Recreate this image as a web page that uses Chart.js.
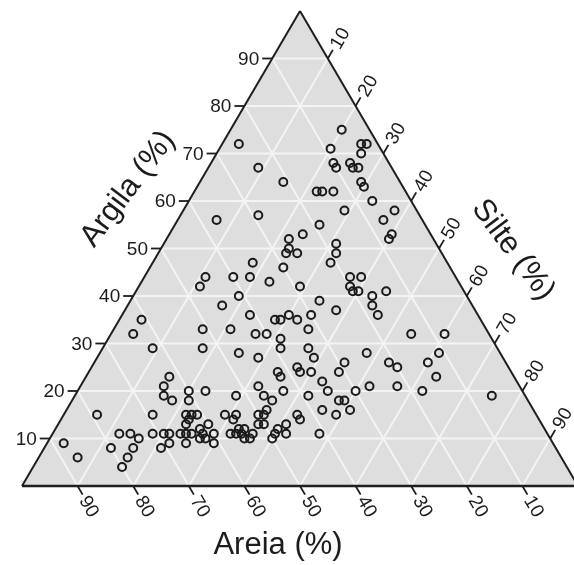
<!DOCTYPE html>
<html>
<head>
<meta charset="utf-8">
<script src="https://cdn.jsdelivr.net/npm/chart.js@4"></script>
<style>
  html, body { margin: 0; padding: 0; background: #fff; overflow: hidden; }
  #wrap { position: relative; width: 584px; height: 565px; }
</style>
</head>
<body>
<div id="wrap"><canvas id="ternary"></canvas></div>
<script>
// Soil samples: Areia (sand), Silte (silt), Argila (clay), in %
const areia = [
  25,24,21,5,9,3,2,4,10,10, 7,7,6,7,7,16,15,13,7,13,
  4,37,29,19,7,7,8,23,26,27, 28,26,18,19,21,35,30,45,47,40,
  37,34,29,41,45,19,17,20,20,19, 17,18,18,14,27,25,30,33,34,36,
  37,32,14,8,34,34,38,39,24,29, 31,21,20,11,14,14,38,38,36,35,
  35,39,42,42,43,30,27,22,18,34, 33,33,38,36,43,43,46,47,41,6,
  41,51,46,53,47,44,42,40,61,64, 62,62,64,65,64,79,69,60,61,57,
  52,47,47,46,48,88,87,80,76,78, 80,71,69,77,75,74,71,69,68,66,
  65,63,62,61,64,62,64,62,60,60, 61,66,63,62,63,56,54,55,55,54,
  56,57,55,54,53,51,50,49,50,48, 49,50,55
];
const silte = [
  3,9,15,20,20,25,26,26,22,23, 25,26,27,29,30,22,23,25,33,29,
  38,7,14,26,37,40,40,24,22,23, 23,25,31,32,32,18,24,11,11,16,
  19,23,29,19,17,37,39,38,39,40, 43,44,46,45,34,38,34,32,30,29,
  28,35,54,60,37,39,31,32,48,45, 45,53,55,61,60,63,37,38,40,43,
  45,42,34,35,37,50,52,57,62,48, 49,51,46,49,42,43,41,42,48,75,
  23,16,21,18,25,29,26,28,4,4, 9,15,15,16,18,6,16,20,21,23,
  29,32,34,36,36,3,7,12,16,16, 16,21,22,12,14,16,18,20,21,23,
  24,22,23,24,23,26,25,27,27,29, 30,25,27,28,23,29,31,31,33,34,
  33,32,35,36,36,36,35,36,37,40, 40,40,34
];
const argila = [
  72,67,64,75,71,72,72,70,68,67, 68,67,67,64,63,62,62,62,60,58,
  58,56,57,55,56,53,52,53,52,50, 49,49,51,49,47,47,46,44,42,44,
  44,43,42,40,38,44,44,42,41,41, 40,38,36,41,39,37,36,35,36,35,
  35,33,32,32,29,27,31,29,28,26, 24,26,25,28,26,23,25,24,24,22,
  20,19,24,23,20,20,21,21,20,18, 18,16,16,15,15,14,13,11,11,19,
  36,33,33,29,28,27,32,32,35,32, 29,23,21,19,18,15,15,20,18,20,
  19,21,19,18,16,9,6,8,8,6, 4,8,9,11,11,10,11,11,11,11,
  11,15,15,15,13,12,11,11,13,11, 9,9,10,10,14,15,15,14,12,12,
  11,11,10,10,11,13,15,15,13,12, 11,10,11
];
const tickVals = [10, 20, 30, 40, 50, 60, 70, 80, 90];

// ternary -> cartesian (x: silt + clay/2, y: clay), normalised to 100
const points = areia.map((a, i) => {
  const tot = a + silte[i] + argila[i];
  return { x: (silte[i] + argila[i] / 2) * 100 / tot, y: argila[i] * 100 / tot };
});

const txt = '#1c1c1c';
const tickFont = '19px "Liberation Sans", Arial, sans-serif';
const titleFont = '31px "Liberation Sans", Arial, sans-serif';

const ternaryPlugin = {
  id: 'ternary',
  beforeDatasetsDraw(chart) {
    const { ctx } = chart;
    const xs = chart.scales.x, ys = chart.scales.y;
    const P = (a, s, c) => ({ x: xs.getPixelForValue(s + c / 2), y: ys.getPixelForValue(c) });
    const line = (p, q) => { ctx.beginPath(); ctx.moveTo(p.x, p.y); ctx.lineTo(q.x, q.y); ctx.stroke(); };
    const A = P(100, 0, 0), B = P(0, 100, 0), C = P(0, 0, 100);

    ctx.save();
    // background triangle
    ctx.fillStyle = '#dedede';
    ctx.beginPath();
    ctx.moveTo(A.x, A.y); ctx.lineTo(B.x, B.y); ctx.lineTo(C.x, C.y);
    ctx.closePath();
    ctx.fill();

    // white grid
    ctx.strokeStyle = '#f4f4f4';
    ctx.lineWidth = 2;
    tickVals.forEach(v => {
      line(P(100 - v, 0, v), P(0, 100 - v, v));
      line(P(100 - v, v, 0), P(0, v, 100 - v));
      line(P(v, 100 - v, 0), P(v, 0, 100 - v));
    });

    // edges
    ctx.strokeStyle = '#1e1e1e';
    ctx.lineWidth = 2;
    line(A, C); line(C, B);
    ctx.lineWidth = 2.5;
    line(A, B);

    // ticks + labels
    const tl = 10;
    ctx.lineWidth = 1.8;
    ctx.fillStyle = txt;
    ctx.font = tickFont;
    tickVals.forEach(v => {
      // Argila, left edge
      let p = P(100 - v, 0, v);
      line(p, { x: p.x - tl, y: p.y });
      ctx.textAlign = 'right'; ctx.textBaseline = 'middle';
      ctx.fillText(String(v), p.x - tl - 3, p.y + 1);

      // Silte, right edge (along constant-silt line, outward)
      p = P(0, v, 100 - v);
      let q = P(100 - v, v, 0);
      let dx = p.x - q.x, dy = p.y - q.y, d = Math.hypot(dx, dy);
      dx /= d; dy /= d;
      line(p, { x: p.x + dx * tl, y: p.y + dy * tl });
      ctx.save();
      ctx.translate(p.x + dx * (tl + 3), p.y + dy * (tl + 3));
      ctx.rotate(Math.atan2(dy, dx));
      ctx.textAlign = 'left'; ctx.textBaseline = 'middle';
      ctx.fillText(String(v), 0, 1);
      ctx.restore();

      // Areia, base (along constant-sand line, outward)
      p = P(v, 100 - v, 0);
      q = P(v, 0, 100 - v);
      dx = p.x - q.x; dy = p.y - q.y; d = Math.hypot(dx, dy);
      dx /= d; dy /= d;
      line(p, { x: p.x + dx * tl, y: p.y + dy * tl });
      ctx.save();
      ctx.translate(p.x + dx * (tl + 3), p.y + dy * (tl + 3));
      ctx.rotate(Math.atan2(dy, dx));
      ctx.textAlign = 'left'; ctx.textBaseline = 'middle';
      ctx.fillText(String(v), 0, 1);
      ctx.restore();
    });

    // axis titles
    ctx.font = titleFont;
    ctx.textAlign = 'center'; ctx.textBaseline = 'middle';
    const ang = 53 * Math.PI / 180;
    ctx.save();
    ctx.translate(128, 189); ctx.rotate(-ang);
    ctx.fillText('Argila (%)', 0, 0);
    ctx.restore();
    ctx.save();
    ctx.translate(513, 250); ctx.rotate(ang);
    ctx.fillText('Silte (%)', 0, 0);
    ctx.restore();
    ctx.fillText('Areia (%)', 278, 545);
    ctx.restore();
  }
};

new Chart(document.getElementById('ternary'), {
  type: 'scatter',
  data: {
    datasets: [{
      data: points,
      pointStyle: 'circle',
      pointRadius: 4,
      pointBorderWidth: 2,
      pointBorderColor: '#1a1a1a',
      pointBackgroundColor: 'rgba(0,0,0,0)',
      pointHoverRadius: 4
    }]
  },
  options: {
    responsive: true,
    maintainAspectRatio: false,
    animation: false,
    layout: { padding: { left: 22, right: 0, top: 11, bottom: 79 } },
    plugins: { legend: { display: false }, tooltip: { enabled: false } },
    scales: {
      x: { type: 'linear', min: 0, max: 100, display: false },
      y: { type: 'linear', min: 0, max: 100, display: false }
    }
  },
  plugins: [ternaryPlugin]
});
</script>
</body>
</html>
